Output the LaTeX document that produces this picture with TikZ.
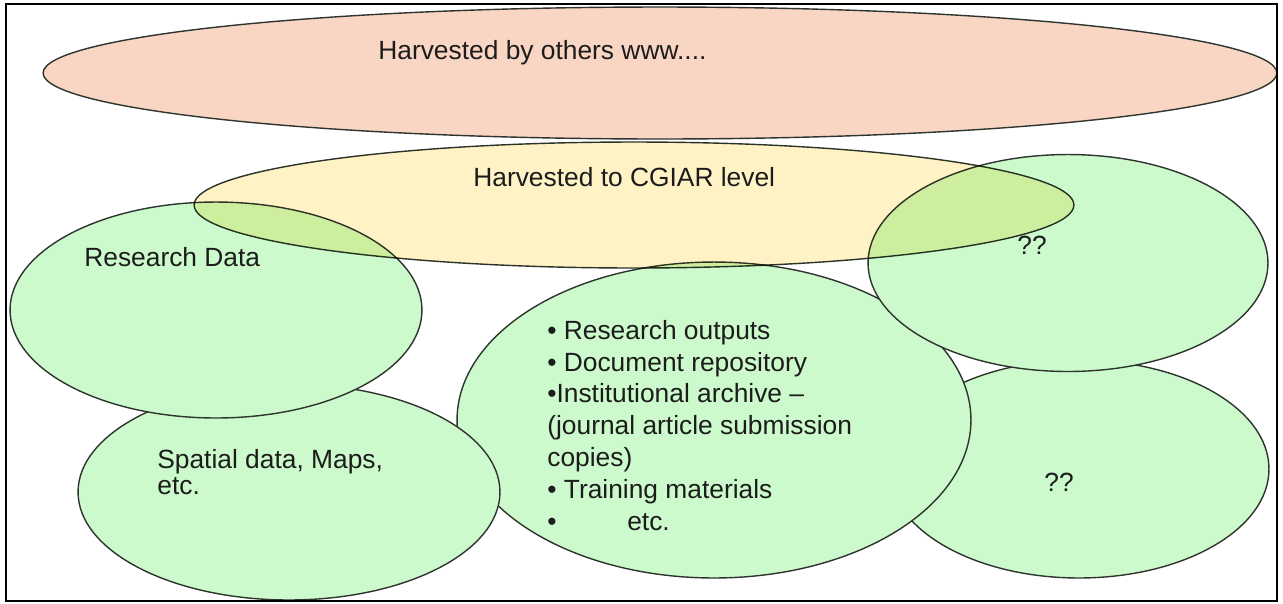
\documentclass[tikz,border=0pt]{standalone}
\usepackage{fontspec}
\setmainfont{Liberation Sans}
\usetikzlibrary{shapes.geometric}
\definecolor{HarvPink}{HTML}{F9D5C4}
\definecolor{HarvYellow}{HTML}{FFF3C6}
\definecolor{RepoGreen}{HTML}{CCFACC}
\definecolor{RepoLine}{HTML}{2E342E}
\definecolor{RepoText}{HTML}{1C1C1C}

\begin{document}
\begin{tikzpicture}[
  x=0.02cm,y=-0.02cm,
  blob/.style={ellipse,draw=RepoLine,line width=0.8pt,fill=RepoGreen,inner sep=0pt,outer sep=0pt},
  txt/.style={inner sep=0pt,anchor=base west,align=left,text=RepoText,font=\fontsize{15}{18.1}\selectfont}
]
\useasboundingbox (0,0) rectangle (1283,603);
\fill[white] (0,0) rectangle (1283,603);
\node[blob,fill=HarvPink,minimum width=24.68cm,minimum height=2.64cm] (others) at (660,73) {};
\node[blob,minimum width=7.6cm,minimum height=4.36cm] (rbot) at (1079,469) {};
\node[blob,minimum width=10.28cm,minimum height=6.32cm] (outputs) at (714,420) {};
\node[blob,minimum width=8.0cm,minimum height=4.34cm] (rtop) at (1068,263) {};
\node[blob,minimum width=8.44cm,minimum height=4.32cm] (spatial) at (289,492) {};
\node[blob,minimum width=8.24cm,minimum height=4.32cm] (data) at (216,310) {};
\node[blob,fill=HarvYellow,blend mode=multiply,minimum width=17.6cm,minimum height=2.52cm] (cgiar) at (634,205) {};
\node[txt] (othersText) at (378,59) {Harvested by others www....};
\node[txt] (cgiarText) at (473,186) {Harvested to CGIAR level};
\node[txt] (dataText) at (84,266) {Research Data};
\node[txt,font=\fontsize{15}{14.5}\selectfont] (spatialText) at (157,494) {Spatial data, Maps,\\etc.};
\node[txt] (outputsText) at (547,530) {• Research outputs\\• Document repository\\•Institutional archive –\\(journal article submission\\copies)\\• Training materials\\\makebox[1.6cm][l]{•}etc.};
\node[txt] (rtopText) at (1017,254) {??};
\node[txt] (rbotText) at (1044,491) {??};
\draw[line width=1.4pt] (6,4) rectangle (1277,601);
\end{tikzpicture}
\end{document}
